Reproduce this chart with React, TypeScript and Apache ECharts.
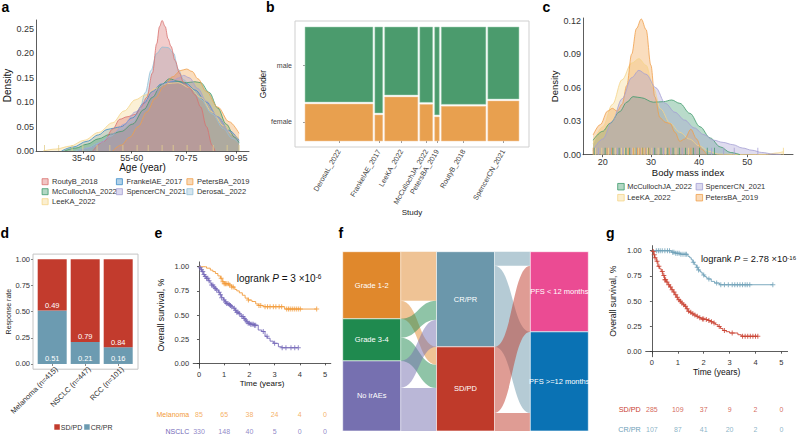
import React, { useEffect, useRef } from "react";
import * as echarts from "echarts";

const FONT = "'Liberation Sans', Arial, Helvetica, sans-serif";
const TXT = "#333333";
const AXC = "#333333";

// ---------------- panel a : age density ----------------
const ageTickPos = [36.7, 53.7, 72.8, 90.4];
const ageTickLabels = ["35-40", "55-60", "70-75", "90-95"];
const ageDensityTicks = [0, 0.05, 0.1, 0.15, 0.2, 0.25];
const drawOrderA = ["DerosaL_2022", "FrankelAE_2017", "LeeKA_2022", "McCullochJA_2022", "PetersBA_2019", "RoutyB_2018", "SpencerCN_2021"];
const legendColsA = [
  ["RoutyB_2018", "McCullochJA_2022", "LeeKA_2022"],
  ["FrankelAE_2017", "SpencerCN_2021"],
  ["PetersBA_2019", "DerosaL_2022"],
];
const routyAge = [[40, 0], [44, 0.02], [47, 0.045], [49.5, 0.065], [52, 0.07], [55, 0.075], [57, 0.09], [59, 0.11], [61, 0.16], [62.5, 0.22], [63.5, 0.255], [64.4, 0.2675], [65.5, 0.255], [66.5, 0.23], [67.5, 0.215], [69, 0.185], [70.5, 0.16], [72, 0.14], [74, 0.13], [76, 0.115], [78, 0.09], [80, 0.05], [82, 0.012], [83, 0]];
const frankelAge = [[29, 0], [33, 0.008], [38, 0.02], [42, 0.033], [45, 0.044], [47.5, 0.047], [50, 0.05], [54, 0.068], [58, 0.098], [61, 0.122], [64, 0.137], [67, 0.142], [70, 0.142], [73, 0.138], [76, 0.125], [80, 0.1], [84, 0.07], [88, 0.042], [91.5, 0.022]];
const petersAge = [[47, 0], [50, 0.012], [53, 0.028], [56, 0.05], [59, 0.08], [62, 0.108], [65, 0.132], [68, 0.152], [71, 0.165], [73, 0.168], [75, 0.163], [77, 0.148], [80, 0.122], [84, 0.09], [88, 0.06], [91.5, 0.036]];
const mccullochAge = [[30, 0], [34, 0.006], [38, 0.014], [42, 0.025], [46, 0.034], [50, 0.04], [54, 0.055], [58, 0.085], [61, 0.11], [64, 0.135], [67, 0.148], [70, 0.143], [73, 0.14], [76, 0.142], [78, 0.14], [81, 0.12], [84, 0.088], [87, 0.055], [90, 0.028], [91.5, 0.017]];
const spencerAge = [[35, 0], [39, 0.006], [43, 0.018], [47, 0.035], [51, 0.055], [55, 0.08], [59, 0.105], [62, 0.123], [65, 0.137], [68, 0.144], [70.5, 0.15], [72, 0.155], [74, 0.15], [77, 0.128], [80, 0.102], [84, 0.07], [88, 0.04], [91.5, 0.02]];
const derosaAge = [[34, 0], [38, 0.006], [42, 0.016], [46, 0.03], [50, 0.045], [54, 0.06], [56.5, 0.085], [58.5, 0.12], [60.5, 0.165], [62.5, 0.2], [64.5, 0.213], [66.5, 0.212], [68.5, 0.2], [70, 0.168], [72, 0.146], [75, 0.126], [78, 0.106], [82, 0.076], [86, 0.046], [89, 0.026], [91.5, 0.016]];
const leeAge = [[22.5, 0], [27, 0.004], [32, 0.01], [37, 0.022], [42, 0.038], [47, 0.058], [51, 0.082], [55, 0.105], [58.5, 0.115], [62, 0.128], [66, 0.138], [70, 0.14], [74, 0.13], [78, 0.11], [82, 0.08], [86, 0.052], [89, 0.034], [91.5, 0.025]];
const ageRug = [23, 28, 32.7, 36.5, 41.5, 46, 50.6, 55.6, 59.5, 64.4, 68.3, 73.2, 77.8, 82.4, 87.3, 91.5];

// ---------------- panel b : gender mosaic ----------------
const studiesB = ["DerosaL_2022", "FrankelAE_2017", "LeeKA_2022", "McCullochJA_2022", "PetersBA_2019", "RoutyB_2018", "SpencerCN_2021"];
const nB = [338, 39, 165, 64, 23, 222, 155];
const femaleShare = [0.333, 0.237, 0.395, 0.33, 0.22, 0.313, 0.36];
const genderLabels = ["female", "male"];

// ---------------- panel c : BMI density ----------------
const bmiTicks = [20, 30, 40, 50];
const bmiDensityTicks = [0, 0.03, 0.06, 0.09, 0.12];
const studiesC = ["McCullochJA_2022", "LeeKA_2022", "SpencerCN_2021", "PetersBA_2019"];
const legendColsC = [["McCullochJA_2022", "LeeKA_2022"], ["SpencerCN_2021", "PetersBA_2019"]];
const mcBmi = [[18, 0.013], [20, 0.021], [21.5, 0.028], [23.5, 0.0385], [25, 0.047], [26.3, 0.052], [28, 0.051], [30.5, 0.047], [32.6, 0.0475], [34.3, 0.049], [36, 0.046], [38.1, 0.037], [40.2, 0.025], [42.3, 0.015], [44.4, 0.007], [46.5, 0.002], [48.5, 0]];
const leeBmi = [[18, 0.01], [20, 0.025], [22, 0.045], [24, 0.067], [26, 0.082], [27.5, 0.086], [29, 0.08], [30.5, 0.06], [32, 0.041], [34, 0.028], [36, 0.02], [38, 0.014], [40, 0.008], [42, 0.003], [44, 0.0005], [50, 0], [54, 0.0003], [56, 0.0015], [57.5, 0.0027]];
const spBmi = [[18, 0.004], [20, 0.014], [22, 0.03], [24, 0.05], [26, 0.069], [27.5, 0.0755], [29, 0.072], [31, 0.06], [33, 0.046], [35, 0.038], [37, 0.031], [39, 0.024], [41, 0.018], [43, 0.013], [45, 0.011], [47, 0.009], [49, 0.006], [51, 0.004], [53, 0.002], [55.5, 0.0005], [57, 0]];
const ptBmi = [[18, 0.0176], [19.5, 0.027], [21, 0.039], [22, 0.0415], [23, 0.039], [24, 0.045], [25, 0.062], [26, 0.09], [27, 0.113], [28, 0.1215], [29, 0.112], [30, 0.08], [30.8, 0.052], [31.9, 0.033], [33, 0.029], [34, 0.028], [35, 0.02], [36, 0.012], [37, 0.014], [38.3, 0.0227], [39.5, 0.014], [40.5, 0.005], [41.6, 0]];
const mcRug = [18.2, 20.5, 22.1, 23.4, 24.8, 25.6, 26.9, 28.3, 29.5, 30.8, 32.1, 33.5, 34.6, 35.9, 37.2, 38.8, 40.1, 41.7, 43.2];
const leeRug = [18.5, 19.8, 21.2, 22.6, 23.9, 24.5, 25.2, 26.1, 26.7, 27.4, 28.0, 28.6, 29.3, 30.2, 31.5, 33.0, 35.2, 37.8, 57.5];
const spRug = [19.1, 21.7, 23.1, 24.2, 25.9, 27.1, 27.8, 28.9, 30.5, 32.6, 34.1, 36.5, 39.2, 42.6, 45.1, 47.3, 52.2];
const ptRug = [18.0, 20.9, 21.8, 25.3, 26.4, 27.2, 27.7, 28.2, 28.8, 29.6, 33.8, 38.3];

// ---------------- panel d : response rate ----------------
const respCats = ["Melanoma (n=415)", "NSCLC (n=447)", "RCC (n=101)"];
const crprRate = [0.51, 0.21, 0.16];
const sdpdRate = [0.49, 0.79, 0.84];
const rateTicks = [0, 0.25, 0.5, 0.75, 1];

// ---------------- panel e : OS melanoma vs NSCLC ----------------
const timeTicks = [0, 1, 2, 3, 4, 5];
const survTicks = [0, 0.25, 0.5, 0.75, 1];
const melanomaKM = [[0, 1], [0.25, 1], [0.3, 0.985], [0.45, 0.965], [0.55, 0.95], [0.65, 0.93], [0.75, 0.905], [0.85, 0.88], [0.92, 0.845], [1.0, 0.825], [1.18, 0.81], [1.3, 0.79], [1.42, 0.765], [1.5, 0.75], [1.6, 0.73], [1.72, 0.705], [1.83, 0.675], [1.95, 0.655], [2.1, 0.64], [2.25, 0.615], [2.35, 0.6], [2.55, 0.587], [3.4, 0.562], [4.67, 0.562]];
const melanomaCensor = [0.88, 0.95, 1.0, 1.05, 1.1, 1.16, 1.22, 1.3, 1.36, 1.96, 2.38, 2.45, 2.62, 2.72, 2.82, 2.95, 3.05, 3.18, 3.28, 3.48, 3.55, 3.62, 3.7, 3.78, 3.86, 3.94, 4.02, 4.67];
const nsclcKM = [[0, 1], [0.03, 0.99], [0.08, 0.97], [0.12, 0.95], [0.17, 0.92], [0.22, 0.9], [0.3, 0.88], [0.37, 0.855], [0.44, 0.83], [0.5, 0.81], [0.57, 0.79], [0.63, 0.775], [0.7, 0.76], [0.77, 0.735], [0.83, 0.71], [0.9, 0.68], [0.97, 0.655], [1.03, 0.635], [1.1, 0.62], [1.17, 0.61], [1.23, 0.6], [1.3, 0.585], [1.36, 0.57], [1.43, 0.55], [1.5, 0.53], [1.57, 0.515], [1.63, 0.5], [1.7, 0.485], [1.76, 0.465], [1.83, 0.45], [1.89, 0.43], [1.95, 0.415], [2.05, 0.405], [2.2, 0.395], [2.35, 0.345], [2.49, 0.33], [2.62, 0.28], [2.71, 0.26], [2.82, 0.23], [2.95, 0.207], [3.15, 0.172], [3.28, 0.162], [3.94, 0.162]];
const nsclcCensor = [0.05, 0.1, 0.15, 0.2, 0.25, 0.3, 0.35, 0.4, 0.5, 0.55, 0.6, 0.65, 0.7, 0.8, 0.85, 0.9, 1.0, 1.05, 1.1, 1.15, 1.2, 1.25, 1.3, 1.4, 1.45, 1.5, 1.55, 1.6, 1.7, 1.75, 1.8, 1.85, 1.9, 1.95, 2.0, 2.05, 2.1, 2.15, 2.2, 2.25, 2.55, 2.7, 3.0, 3.3, 3.45, 3.65, 3.8, 3.94];
const riskGroupsE = ["Melanoma", "NSCLC"];
const melanomaRisk = [85, 65, 38, 24, 4, 0];
const nsclcRisk = [330, 148, 40, 5, 0, 0];

// ---------------- panel f : alluvial ----------------
const sankeyNodes = ["Grade 1-2", "Grade 3-4", "No irAEs", "CR/PR", "SD/PD", "PFS < 12 months", "PFS >=12 months"];
const sankeyLinks = [
  ["Grade 1-2", "CR/PR", 49], ["Grade 1-2", "SD/PD", 18],
  ["Grade 3-4", "CR/PR", 19], ["Grade 3-4", "SD/PD", 23],
  ["No irAEs", "CR/PR", 27], ["No irAEs", "SD/PD", 43],
  ["CR/PR", "PFS < 12 months", 14], ["CR/PR", "PFS >=12 months", 81],
  ["SD/PD", "PFS < 12 months", 66], ["SD/PD", "PFS >=12 months", 18],
];

// ---------------- panel g : OS by response ----------------
const crprKM = [[0, 1], [0.75, 0.985], [0.9, 0.975], [1.1, 0.965], [1.39, 0.944], [1.46, 0.93], [1.52, 0.91], [1.58, 0.885], [1.65, 0.86], [1.72, 0.835], [1.78, 0.81], [1.85, 0.795], [1.9, 0.78], [1.97, 0.76], [2.03, 0.745], [2.1, 0.73], [2.16, 0.72], [2.29, 0.696], [2.42, 0.68], [2.61, 0.663], [4.67, 0.663]];
const crprCensor = [0.17, 0.25, 0.32, 0.4, 0.5, 0.6, 0.68, 0.8, 0.85, 0.92, 0.98, 1.05, 1.12, 1.2, 1.28, 1.33, 1.6, 1.75, 1.8, 2.0, 2.2, 2.5, 2.66, 2.8, 2.95, 3.1, 3.2, 3.3, 3.4, 3.5, 3.6, 3.68, 3.78, 4.67];
const sdpdKM = [[0, 1], [0.04, 0.993], [0.07, 0.96], [0.1, 0.93], [0.17, 0.895], [0.23, 0.845], [0.3, 0.82], [0.36, 0.795], [0.42, 0.755], [0.49, 0.713], [0.55, 0.69], [0.62, 0.663], [0.68, 0.64], [0.75, 0.614], [0.82, 0.59], [0.88, 0.564], [0.94, 0.54], [1.0, 0.515], [1.07, 0.5], [1.13, 0.482], [1.2, 0.465], [1.26, 0.449], [1.33, 0.425], [1.39, 0.4], [1.45, 0.39], [1.52, 0.376], [1.61, 0.363], [1.71, 0.35], [1.8, 0.337], [1.9, 0.323], [2.05, 0.318], [2.16, 0.31], [2.26, 0.297], [2.36, 0.284], [2.45, 0.268], [2.55, 0.25], [2.65, 0.23], [2.74, 0.21], [2.87, 0.198], [3.0, 0.185], [3.32, 0.168], [3.45, 0.152], [4.09, 0.152]];
const sdpdCensor = [0.05, 0.09, 0.12, 0.2, 0.27, 0.4, 0.46, 0.5, 0.53, 0.58, 0.65, 0.72, 0.78, 0.85, 0.92, 0.98, 1.04, 1.1, 1.16, 1.23, 1.3, 1.36, 1.42, 1.5, 1.58, 1.66, 1.75, 1.85, 1.95, 2.0, 2.1, 2.2, 2.3, 2.4, 2.6, 2.8, 3.1, 3.5, 3.6, 3.7, 3.8, 3.9, 4.0, 4.09];
const riskGroupsG = ["SD/PD", "CR/PR"];
const sdpdRisk = [285, 109, 37, 9, 2, 0];
const crprRisk = [107, 87, 41, 20, 2, 0];

// ---------------- styles ----------------
const studyColor: Record<string, string> = {
  RoutyB_2018: "#d9716f",
  FrankelAE_2017: "#3b8bc8",
  PetersBA_2019: "#f0a04b",
  McCullochJA_2022: "#3e9b6b",
  SpencerCN_2021: "#a59fd4",
  DerosaL_2022: "#94bfd6",
  LeeKA_2022: "#f5d68a",
};
const AREA_OPACITY = 0.36;
const MALE = "#4b9b6d";
const FEMALE = "#e8a04f";
const RED_D = "#c23b2d";
const BLUE_D = "#6c9bb1";
const MEL = "#f29b3a";
const NSC = "#7468b8";
const RED_G = "#c9402f";
const BLUE_G = "#6ea0b8";
const sankeyColor: Record<string, string> = {
  "Grade 1-2": "#e0882c",
  "Grade 3-4": "#1f8a4f",
  "No irAEs": "#7670b0",
  "CR/PR": "#6b97ab",
  "SD/PD": "#bf3a2a",
  "PFS < 12 months": "#eb4b93",
  "PFS >=12 months": "#0a72b4",
};
const PLUS = "path://M2,0H3V2H5V3H3V5H2V3H0V2H2Z";

function rgba(hex: string, a: number) {
  const n = parseInt(hex.slice(1), 16);
  return `rgba(${(n >> 16) & 255},${(n >> 8) & 255},${n & 255},${a})`;
}
function stepValue(curve: number[][], t: number) {
  let v = curve[0][1];
  for (const p of curve) if (p[0] <= t) v = p[1];
  return v;
}
function nearestLabel(pos: number[], labels: string[], v: number) {
  let best = 0;
  for (let i = 1; i < pos.length; i++) if (Math.abs(pos[i] - v) < Math.abs(pos[best] - v)) best = i;
  return labels[best];
}

function buildOption() {
  const densA: Record<string, number[][]> = {
    RoutyB_2018: routyAge, FrankelAE_2017: frankelAge, PetersBA_2019: petersAge,
    McCullochJA_2022: mccullochAge, SpencerCN_2021: spencerAge, DerosaL_2022: derosaAge, LeeKA_2022: leeAge,
  };
  const densC: Record<string, number[][]> = {
    McCullochJA_2022: mcBmi, LeeKA_2022: leeBmi, SpencerCN_2021: spBmi, PetersBA_2019: ptBmi,
  };
  const rugC: Record<string, number[]> = {
    McCullochJA_2022: mcRug, LeeKA_2022: leeRug, SpencerCN_2021: spRug, PetersBA_2019: ptRug,
  };

  // mosaic geometry from counts
  const gapB = 10;
  const mosaic: number[][] = [];
  const centersB: number[] = [];
  let acc = 0;
  nB.forEach((n, i) => {
    const x0 = acc, x1 = acc + n;
    centersB.push((x0 + x1) / 2);
    mosaic.push([x0, x1, 0, femaleShare[i], 0]);
    mosaic.push([x0, x1, femaleShare[i], 1, 1]);
    acc = x1 + gapB;
  });
  const genderPos = [femaleShare[0] / 2, femaleShare[0] + (1 - femaleShare[0]) / 2];

  const axisLineDark = { show: true, lineStyle: { color: AXC, width: 0.8 } };
  const tickDark = (vals: number[], len = 2.5) => ({ show: true, length: len, customValues: vals, lineStyle: { color: AXC, width: 0.8 } });

  const grids = [
    { left: 36, top: 20, width: 213, height: 131 }, // 0 a
    { left: 295, top: 21, width: 234, height: 126, show: true, borderColor: "#cfcfcf", borderWidth: 1, backgroundColor: "#fff" }, // 1 b
    { left: 583, top: 18, width: 210, height: 136.7 }, // 2 c
    { left: 33, top: 254.1, width: 105, height: 115.1, show: true, borderColor: "#c4c4c4", borderWidth: 1 }, // 3 d frame
    { left: 193.2, top: 261.9, width: 137.6, height: 106.3 }, // 4 e
    { left: 193.2, top: 406, width: 137.6, height: 35.4 }, // 5 e risk
    { left: 645.7, top: 245.65, width: 141.9, height: 111.1 }, // 6 g
    { left: 645.7, top: 399.45, width: 141.9, height: 39.4 }, // 7 g risk
    { left: 35.7, top: 254.1, width: 99, height: 115.1 }, // 8 d bars
  ];

  const xAxes: any[] = [
    {
      type: "value", gridIndex: 0, min: 20, max: 95, splitLine: { show: false }, axisLine: axisLineDark,
      axisTick: tickDark(ageTickPos),
      axisLabel: { customValues: ageTickPos, formatter: (v: number) => nearestLabel(ageTickPos, ageTickLabels, v), fontSize: 9, color: TXT, margin: 2 },
      name: "Age (year)", nameLocation: "middle", nameGap: 10, nameTextStyle: { fontSize: 10, color: "#111" },
    },
    {
      type: "value", gridIndex: 1, min: -50, max: acc - gapB + 50, splitLine: { show: false }, axisLine: { show: false },
      axisTick: { show: true, length: 2, customValues: centersB, lineStyle: { color: "#999" } },
      axisLabel: { customValues: centersB, formatter: (v: number) => nearestLabel(centersB, studiesB, v), rotate: 60, fontSize: 7.2, color: "#444", margin: 3 },
      name: "Study", nameLocation: "middle", nameGap: 52, nameTextStyle: { fontSize: 8, color: "#222" },
    },
    {
      type: "value", gridIndex: 2, min: 15.9, max: 59.5, splitLine: { show: false }, axisLine: axisLineDark,
      axisTick: tickDark(bmiTicks),
      axisLabel: { customValues: bmiTicks, fontSize: 9, color: TXT, margin: 3 },
      name: "Body mass index", nameLocation: "middle", nameGap: 11.5, nameTextStyle: { fontSize: 9.5, color: "#111" },
    },
    { type: "value", gridIndex: 3, min: 0, max: 1, show: false },
    {
      type: "value", gridIndex: 4, min: -0.23, max: 5.23, splitLine: { show: false }, axisLine: axisLineDark,
      axisTick: tickDark(timeTicks, 2),
      axisLabel: { customValues: timeTicks, fontSize: 7.5, color: TXT, margin: 2 },
      name: "Time (years)", nameLocation: "middle", nameGap: 10, nameTextStyle: { fontSize: 8, color: "#111" },
    },
    { type: "value", gridIndex: 5, min: -0.23, max: 5.23, show: false },
    {
      type: "value", gridIndex: 6, min: -0.24, max: 5.24, splitLine: { show: false }, axisLine: axisLineDark,
      axisTick: tickDark(timeTicks, 2),
      axisLabel: { customValues: timeTicks, fontSize: 7.5, color: TXT, margin: 2 },
      name: "Time (years)", nameLocation: "middle", nameGap: 11, nameTextStyle: { fontSize: 8.5, color: "#111" },
    },
    { type: "value", gridIndex: 7, min: -0.24, max: 5.24, show: false },
    {
      type: "category", gridIndex: 8, data: respCats, axisLine: { show: false },
      axisTick: { show: true, alignWithLabel: true, length: 2, lineStyle: { color: "#888" } },
      axisLabel: { rotate: 45, fontSize: 7.5, color: "#333", margin: 3, padding: [0, -6, 0, 0] },
    },
  ];

  const yAxes: any[] = [
    {
      type: "value", gridIndex: 0, min: 0, max: 0.2685, splitLine: { show: false }, axisLine: axisLineDark, axisTick: { show: false },
      axisLabel: { customValues: ageDensityTicks, formatter: (v: number) => v.toFixed(2), fontSize: 9, color: TXT, margin: 2 },
      name: "Density", nameLocation: "middle", nameGap: 19, nameTextStyle: { fontSize: 10, color: "#111" },
    },
    {
      type: "value", gridIndex: 1, min: -0.053, max: 1.053, splitLine: { show: false }, axisLine: { show: false },
      axisTick: { show: true, length: 2, customValues: genderPos, lineStyle: { color: "#999" } },
      axisLabel: { customValues: genderPos, formatter: (v: number) => nearestLabel(genderPos, genderLabels, v), fontSize: 7, color: "#444", margin: 3 },
      name: "Gender", nameLocation: "middle", nameGap: 21, nameTextStyle: { fontSize: 8.5, color: "#222" },
    },
    {
      type: "value", gridIndex: 2, min: 0, max: 0.1224, splitLine: { show: false }, axisLine: axisLineDark, axisTick: { show: false },
      axisLabel: { customValues: bmiDensityTicks, formatter: (v: number) => v.toFixed(2), fontSize: 9, color: TXT, margin: 2 },
      name: "Density", nameLocation: "middle", nameGap: 19, nameTextStyle: { fontSize: 9.5, color: "#111" },
    },
    {
      type: "value", gridIndex: 3, min: -0.05, max: 1.05, splitLine: { show: false }, axisLine: { show: false },
      axisTick: { show: true, length: 2, customValues: rateTicks, lineStyle: { color: "#888" } },
      axisLabel: { customValues: rateTicks, formatter: (v: number) => v.toFixed(2), fontSize: 7.5, color: TXT, margin: 3 },
      name: "Response rate", nameLocation: "middle", nameGap: 17, nameTextStyle: { fontSize: 7, color: "#222" },
    },
    {
      type: "value", gridIndex: 4, min: -0.05, max: 1.05, splitLine: { show: false }, axisLine: axisLineDark,
      axisTick: tickDark(survTicks, 2),
      axisLabel: { customValues: survTicks, formatter: (v: number) => v.toFixed(2), fontSize: 7.5, color: TXT, margin: 4 },
      name: "Overall survival, %", nameLocation: "middle", nameGap: 27.5, nameTextStyle: { fontSize: 8.8, color: "#111" },
    },
    {
      type: "category", gridIndex: 5, data: riskGroupsE, inverse: true, axisLine: { show: false }, axisTick: { show: false },
      axisLabel: { fontSize: 7, margin: 4, color: (v: string) => (v === "Melanoma" ? MEL : NSC) },
    },
    {
      type: "value", gridIndex: 6, min: -0.05, max: 1.05, splitLine: { show: false }, axisLine: axisLineDark,
      axisTick: tickDark(survTicks, 2),
      axisLabel: { customValues: survTicks, formatter: (v: number) => v.toFixed(2), fontSize: 7.5, color: TXT, margin: 4 },
      name: "Overall survival, %", nameLocation: "middle", nameGap: 28.4, nameTextStyle: { fontSize: 8.6, color: "#111" },
    },
    {
      type: "category", gridIndex: 7, data: riskGroupsG, inverse: true, axisLine: { show: false }, axisTick: { show: false },
      axisLabel: { fontSize: 7.2, margin: 5, color: (v: string) => (v === "SD/PD" ? RED_G : BLUE_G) },
    },
    { type: "value", gridIndex: 8, min: -0.05, max: 1.05, show: false },
  ];

  const series: any[] = [];

  // a densities
  drawOrderA.forEach((s) => {
    series.push({
      type: "line", name: s, xAxisIndex: 0, yAxisIndex: 0, data: densA[s], smooth: 0.35, smoothMonotone: "x",
      symbol: "none", lineStyle: { width: 0.8, color: studyColor[s] }, itemStyle: { color: studyColor[s] },
      areaStyle: { color: studyColor[s], opacity: AREA_OPACITY }, silent: true,
    });
  });
  series.push({
    type: "scatter", xAxisIndex: 0, yAxisIndex: 0, data: ageRug.map((a) => [a, 0]), symbol: "rect",
    symbolSize: [0.9, 6], symbolOffset: [0, -3], itemStyle: { color: "#e2cf8e", opacity: 0.9 }, silent: true, z: 5,
  });

  // b mosaic
  series.push({
    type: "custom", xAxisIndex: 1, yAxisIndex: 1, data: mosaic, encode: { x: [0, 1], y: [2, 3] }, silent: true,
    renderItem: (params: any, api: any) => {
      const p0 = api.coord([api.value(0), api.value(2)]);
      const p1 = api.coord([api.value(1), api.value(3)]);
      const k = api.value(4);
      let top = p1[1];
      let bottom = p0[1];
      if (k === 0) top += 1; else bottom -= 1;
      return {
        type: "rect",
        shape: { x: p0[0], y: top, width: p1[0] - p0[0], height: bottom - top },
        style: { fill: k === 0 ? FEMALE : MALE, stroke: k === 0 ? "#f2c79a" : "#9fcfb2", lineWidth: 0.5 },
      };
    },
  });

  // c densities
  ["LeeKA_2022", "McCullochJA_2022", "PetersBA_2019", "SpencerCN_2021"].forEach((s) => {
    series.push({
      type: "line", name: s, xAxisIndex: 2, yAxisIndex: 2, data: densC[s], smooth: 0.35, smoothMonotone: "x",
      symbol: "none", lineStyle: { width: 0.8, color: studyColor[s] }, itemStyle: { color: studyColor[s] },
      areaStyle: { color: studyColor[s], opacity: AREA_OPACITY }, silent: true,
    });
  });
  studiesC.forEach((s) => {
    series.push({
      type: "scatter", xAxisIndex: 2, yAxisIndex: 2, data: rugC[s].map((b) => [b, 0]), symbol: "rect",
      symbolSize: [0.9, 7], symbolOffset: [0, -3.5], itemStyle: { color: studyColor[s], opacity: 0.85 }, silent: true, z: 5,
    });
  });

  // d bars (category axis on grid 8)
  const barLabel = { show: true, position: "insideBottom", distance: 1, color: "#fff", fontSize: 7.5, formatter: (p: any) => Number(p.value).toFixed(2) };
  series.push({
    type: "bar", name: "CR/PR", xAxisIndex: 8, yAxisIndex: 8, stack: "resp", barWidth: 29,
    data: crprRate, itemStyle: { color: BLUE_D }, label: barLabel, silent: true,
  });
  series.push({
    type: "bar", name: "SD/PD", xAxisIndex: 8, yAxisIndex: 8, stack: "resp", barWidth: 29,
    data: sdpdRate, itemStyle: { color: RED_D }, label: barLabel, silent: true,
  });

  // survival helper
  const km = (name: string, xi: number, curve: number[][], cens: number[], color: string) => {
    series.push({
      type: "line", name, xAxisIndex: xi, yAxisIndex: xi, data: curve, step: "end", symbol: "none",
      lineStyle: { width: 0.9, color }, itemStyle: { color }, silent: true,
    });
    series.push({
      type: "scatter", xAxisIndex: xi, yAxisIndex: xi, data: cens.map((t) => [t, stepValue(curve, t)]),
      symbol: PLUS, symbolSize: 5, itemStyle: { color }, silent: true, z: 4,
    });
  };
  km("Melanoma", 4, melanomaKM, melanomaCensor, MEL);
  km("NSCLC", 4, nsclcKM, nsclcCensor, NSC);
  km("CR/PR survival", 6, crprKM, crprCensor, BLUE_G);
  km("SD/PD survival", 6, sdpdKM, sdpdCensor, RED_G);

  const risk = (xi: number, group: string, vals: number[], color: string) => {
    series.push({
      type: "scatter", xAxisIndex: xi, yAxisIndex: xi, data: vals.map((v, i) => [timeTicks[i], group, v]),
      symbol: "circle", symbolSize: 1, itemStyle: { color: "transparent" }, silent: true,
      label: { show: true, position: "inside", formatter: (p: any) => String(p.value[2]), color, fontSize: 7 },
    });
  };
  risk(5, "Melanoma", melanomaRisk, MEL);
  risk(5, "NSCLC", nsclcRisk, NSC);
  risk(7, "SD/PD", sdpdRisk, RED_G);
  risk(7, "CR/PR", crprRisk, BLUE_G);

  // f alluvial
  series.push({
    type: "sankey", left: 342.7, top: 251.7, width: 245.6, height: 179.3, nodeWidth: 58, nodeGap: 0,
    layoutIterations: 0, draggable: false, silent: true,
    data: sankeyNodes.map((n) => ({ name: n, itemStyle: { color: sankeyColor[n], borderColor: "#fff", borderWidth: 0.6 } })),
    links: sankeyLinks.map((l) => ({ source: l[0], target: l[1], value: l[2] })),
    lineStyle: { color: "source", opacity: 0.5, curveness: 0.5 },
    label: { show: true, position: "inside", color: "#fff", fontSize: 7.5, fontFamily: FONT },
    emphasis: { disabled: true },
  });

  const legendA = legendColsA.map((col, i) => ({
    orient: "vertical", left: [41.7, 116, 186.5][i], top: 177.7, padding: 0, itemWidth: 6, itemHeight: 6, itemGap: 2,
    icon: "rect", selectedMode: false, textStyle: { fontSize: 7.5, color: TXT, padding: [0, 0, 0, -1] },
    data: col.map((s) => ({ name: s, itemStyle: { color: rgba(studyColor[s], 0.4), borderColor: studyColor[s], borderWidth: 0.8 } })),
  }));
  const legendC = legendColsC.map((col, i) => ({
    orient: "vertical", left: [617.3, 695.7][i], top: 182.7, padding: 0, itemWidth: 6.5, itemHeight: 6.5, itemGap: 3,
    icon: "rect", selectedMode: false, textStyle: { fontSize: 7.5, color: TXT, padding: [0, 0, 0, -2] },
    data: col.map((s) => ({ name: s, itemStyle: { color: rgba(studyColor[s], 0.4), borderColor: studyColor[s], borderWidth: 0.8 } })),
  }));
  const legendD = {
    orient: "horizontal", left: 54.3, top: 423.5, padding: 0, itemWidth: 5.5, itemHeight: 5.5, itemGap: 2, icon: "rect", selectedMode: false,
    textStyle: { fontSize: 7, color: TXT, padding: [0, 0, 0, -4] },
    data: [{ name: "SD/PD", itemStyle: { color: RED_D } }, { name: "CR/PR", itemStyle: { color: BLUE_D } }],
  };

  const letter = (t: string, x: number, y: number) => ({
    type: "text", x, y, silent: true,
    style: { text: t, fontSize: 14, fontWeight: "bold", fontFamily: FONT, fill: "#000", verticalAlign: "top" },
  });
  const logrank = (x: number, y: number, val: string, exp: string, fs: number) => ({
    type: "text", x, y, silent: true,
    style: {
      text: `{n|logrank }{i|P}{n| = ${val} ×10}{s|${exp}}`, verticalAlign: "middle", fill: "#111",
      rich: {
        n: { fontSize: fs, fontFamily: FONT, fill: "#111" },
        i: { fontSize: fs, fontFamily: FONT, fontStyle: "italic", fill: "#111" },
        s: { fontSize: fs * 0.65, fontFamily: FONT, fill: "#111", verticalAlign: "top" },
      },
    },
  });

  return {
    animation: false,
    backgroundColor: "#fff",
    textStyle: { fontFamily: FONT },
    grid: grids,
    xAxis: xAxes,
    yAxis: yAxes,
    legend: [...legendA, ...legendC, legendD],
    series,
    graphic: [
      letter("a", 1.5, 0), letter("b", 266, 0), letter("c", 542.5, 0),
      letter("d", 0.5, 226), letter("e", 154.5, 226), letter("f", 338.5, 226), letter("g", 606, 226),
      logrank(236.7, 278.3, "3", "-6", 10),
      logrank(701, 259.3, "2.78", "-16", 9.3),
    ],
  };
}

export default function App() {
  const ref = useRef<HTMLDivElement>(null);
  useEffect(() => {
    const chart = echarts.init(ref.current as HTMLDivElement, null, { renderer: "svg" });
    chart.setOption(buildOption() as any);
    return () => chart.dispose();
  }, []);
  return (
    <div
      ref={ref}
      style={{ position: "absolute", left: 0, top: 0, width: 799, height: 440, background: "#fff" }}
    />
  );
}
